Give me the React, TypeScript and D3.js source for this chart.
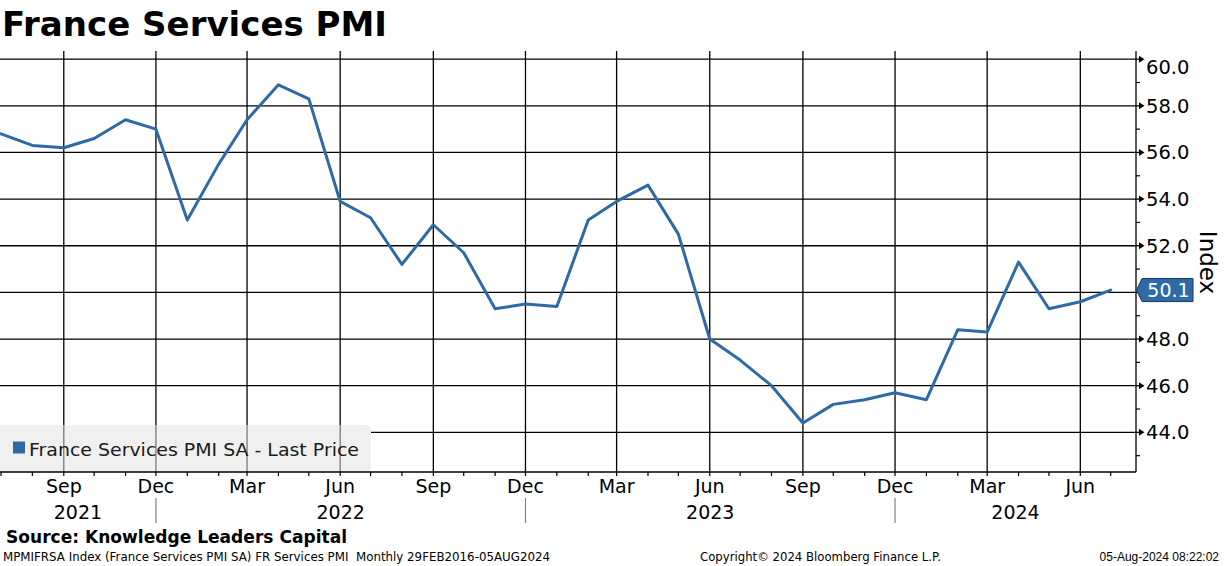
import React from "react";
import * as d3 from "d3";

const dates = [
  "2021-07-01","2021-08-01","2021-09-01","2021-10-01","2021-11-01","2021-12-01",
  "2022-01-01","2022-02-01","2022-03-01","2022-04-01","2022-05-01","2022-06-01",
  "2022-07-01","2022-08-01","2022-09-01","2022-10-01","2022-11-01","2022-12-01",
  "2023-01-01","2023-02-01","2023-03-01","2023-04-01","2023-05-01","2023-06-01",
  "2023-07-01","2023-08-01","2023-09-01","2023-10-01","2023-11-01","2023-12-01",
  "2024-01-01","2024-02-01","2024-03-01","2024-04-01","2024-05-01","2024-06-01",
  "2024-07-01",
];
const values = [
  56.8, 56.3, 56.2, 56.6, 57.4, 57.0,
  53.1, 55.5, 57.4, 58.9, 58.3, 53.9,
  53.2, 51.2, 52.9, 51.7, 49.3, 49.5,
  49.4, 53.1, 53.9, 54.6, 52.5, 48.0,
  47.1, 46.0, 44.4, 45.2, 45.4, 45.7,
  45.4, 48.4, 48.3, 51.3, 49.3, 49.6,
  50.1,
];
const quarterTicks = [
  "2021-09-01","2021-12-01","2022-03-01","2022-06-01","2022-09-01","2022-12-01",
  "2023-03-01","2023-06-01","2023-09-01","2023-12-01","2024-03-01","2024-06-01",
];
const yearLabels = ["2021", "2022", "2023", "2024"];
const yMajorTicks = [44, 46, 48, 50, 52, 54, 56, 58, 60];
const yMinorTicks = [43, 45, 47, 49, 51, 53, 55, 57, 59];

const title = "France Services PMI";
const legendLabel = "France Services PMI SA - Last Price";
const axisTitle = "Index";
const sourceText = "Source: Knowledge Leaders Capital";
const footerLeft = "MPMIFRSA Index (France Services PMI SA) FR Services PMI  Monthly 29FEB2016-05AUG2024";
const footerMid = "Copyright\u00A9 2024 Bloomberg Finance L.P.";
const footerRight = "05-Aug-2024 08:22:02";

const parse = (s: string) => {
  const [y, m, d] = s.split("-").map(Number);
  return new Date(y, m - 1, d);
};

const W = 1224;
const H = 566;
const P = { left: 0, right: 1136, top: 51, bottom: 472 };
const LINE = "#2d6aa6";
const FONT = "'DejaVu Sans', Verdana, sans-serif";

export default function App() {
  const x = d3
    .scaleTime()
    .domain([new Date(2021, 5, 30), new Date(2024, 6, 26)])
    .range([P.left, P.right]);
  const y = d3.scaleLinear().domain([42.3, 60.35]).range([P.bottom, P.top]);

  const pts = dates.map((d, i) => [x(parse(d)), y(values[i])] as [number, number]);
  const linePath = d3.line().curve(d3.curveLinear)(pts) || "";

  const monthTicks = d3.timeMonth.range(x.domain()[0], x.domain()[1]);
  const fmt = d3.timeFormat("%b");

  const decTicks = quarterTicks.map(parse).filter((d) => d.getMonth() === 11);
  const bounds = [x.range()[0], ...decTicks.map((d) => x(d)), x.range()[1]];

  const legend = { x: 0, y: 425, w: 371, h: 47 };
  const last = values[values.length - 1];
  const ty = y(last);
  const tag = { tip: P.right + 0.5, l: 1142, r: 1193, top: ty - 11.5, bot: ty + 11.5 };

  return (
    <svg
      width={W}
      height={H}
      style={{ position: "absolute", left: 0, top: 0, display: "block", background: "#fff" }}
      fontFamily={FONT}
    >
      <rect x={0} y={0} width={W} height={H} fill="#fff" />
      <text x={2} y={36} fontSize={33} fontWeight="bold" fill="#000" textLength={385} lengthAdjust="spacingAndGlyphs">
        {title}
      </text>

      {yMajorTicks.map((v) => (
        <line key={"h" + v} x1={P.left} x2={P.right} y1={y(v)} y2={y(v)} stroke="#000" strokeWidth={1.3} />
      ))}
      {quarterTicks.map((d) => (
        <line key={"v" + d} x1={x(parse(d))} x2={x(parse(d))} y1={P.top} y2={P.bottom} stroke="#000" strokeWidth={1.3} />
      ))}

      <rect x={legend.x - 4} y={legend.y} width={legend.w + 4} height={legend.h} rx={4} fill="#f0f0f0" />
      {quarterTicks
        .map((d) => x(parse(d)))
        .filter((px) => px < legend.x + legend.w)
        .map((px) => (
          <line key={"lv" + px} x1={px} x2={px} y1={legend.y} y2={legend.y + legend.h} stroke="#7a7a7a" strokeWidth={1.3} />
        ))}
      <rect x={13} y={441.5} width={12} height={12} fill={LINE} />
      <text x={29} y={456} fontSize={18.5} fill="#1a1a1a" textLength={330} lengthAdjust="spacingAndGlyphs">
        {legendLabel}
      </text>

      <defs>
        <clipPath id="plotclip">
          <rect x={P.left} y={P.top - 5} width={P.right - P.left} height={P.bottom - P.top + 5} />
        </clipPath>
      </defs>
      <path d={linePath} fill="none" stroke={LINE} strokeWidth={3} strokeLinejoin="round" strokeLinecap="round" clipPath="url(#plotclip)" />

      <line x1={P.left} x2={P.right} y1={P.bottom} y2={P.bottom} stroke="#000" strokeWidth={1.3} />
      {monthTicks.map((d) => (
        <line key={"m" + d.getTime()} x1={x(d)} x2={x(d)} y1={P.bottom} y2={P.bottom + 4} stroke="#000" strokeWidth={1.2} />
      ))}
      {quarterTicks.map((d) => (
        <text key={"ml" + d} x={x(parse(d))} y={493} fontSize={19} textAnchor="middle" fill="#000">
          {fmt(parse(d))}
        </text>
      ))}
      {decTicks.map((d) => (
        <line key={"ys" + d.getTime()} x1={x(d)} x2={x(d)} y1={498} y2={523} stroke="#808080" strokeWidth={1.2} />
      ))}
      {yearLabels.map((yl, i) => (
        <text key={"yl" + yl} x={(bounds[i] + bounds[i + 1]) / 2} y={519} fontSize={19} textAnchor="middle" fill="#000">
          {yl}
        </text>
      ))}

      <line x1={P.right} x2={P.right} y1={P.top} y2={P.bottom} stroke="#000" strokeWidth={1.3} />
      {yMinorTicks.map((v) => (
        <line key={"mn" + v} x1={P.right} x2={P.right + 4} y1={y(v)} y2={y(v)} stroke="#000" strokeWidth={1.2} />
      ))}
      {yMajorTicks.map((v) => (
        <g key={"mj" + v}>
          <line x1={P.right} x2={P.right + 4} y1={y(v)} y2={y(v)} stroke="#000" strokeWidth={1.3} />
          <path d={`M${P.right + 3},${y(v) - 3.5}L${P.right + 8.5},${y(v)}L${P.right + 3},${y(v) + 3.5}Z`} fill="#000" />
        </g>
      ))}
      {yMajorTicks
        .filter((v) => Math.abs(v - last) > 1)
        .map((v) => (
          <text key={"yt" + v} x={1146} y={(v === 60 ? y(v) + 7.5 : y(v)) + 7} fontSize={19.5} fill="#000">
            {v.toFixed(1)}
          </text>
        ))}
      <text transform={`translate(1200,262.5) rotate(90)`} fontSize={23} textAnchor="middle" fill="#000">
        {axisTitle}
      </text>

      <path
        d={`M${tag.tip},${ty}L${tag.l},${tag.top}L${tag.r},${tag.top}L${tag.r},${tag.bot}L${tag.l},${tag.bot}Z`}
        fill={LINE}
        stroke="#173b63"
        strokeWidth={1}
      />
      <text x={(tag.l + tag.r) / 2 + 1} y={ty + 7} fontSize={19} textAnchor="middle" fill="#fff">
        {last.toFixed(1)}
      </text>

      <text x={6} y={543} fontSize={18} fontWeight="bold" fill="#000" textLength={341} lengthAdjust="spacingAndGlyphs">
        {sourceText}
      </text>
      <text x={3} y={561} fontSize={12.5} fill="#000" textLength={547} lengthAdjust="spacingAndGlyphs" style={{ whiteSpace: "pre" }}>
        {footerLeft}
      </text>
      <text x={700} y={561} fontSize={12.5} fill="#000" textLength={241} lengthAdjust="spacingAndGlyphs">
        {footerMid}
      </text>
      <text x={1219} y={561} fontSize={12} fill="#000" textAnchor="end" fontFamily="'Liberation Sans', Arial, sans-serif">
        {footerRight}
      </text>
    </svg>
  );
}
